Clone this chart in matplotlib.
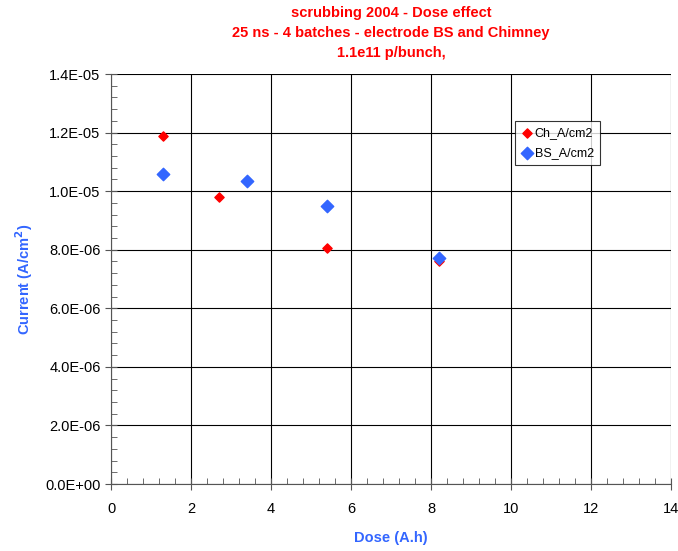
import matplotlib.pyplot as plt
from matplotlib.ticker import MultipleLocator, FuncFormatter

# dose (A.h) and current density (A/cm2)
ch_dose = [1.3, 2.7, 5.4, 8.2]
ch_current = [1.188e-05, 9.80e-06, 8.05e-06, 7.61e-06]
bs_dose = [1.3, 3.4, 5.4, 8.2]
bs_current = [1.058e-05, 1.034e-05, 9.49e-06, 7.71e-06]

title_lines = ['scrubbing 2004 - Dose effect',
               '25 ns - 4 batches - electrode BS and Chimney',
               '1.1e11 p/bunch,']

plt.rcParams['font.family'] = ['Liberation Sans', 'DejaVu Sans']
red = '#FF0000'
blue = '#3366FF'

fig = plt.figure(figsize=(6.78, 5.51), dpi=100)
ax = fig.add_axes([111 / 678, 67 / 551, 560 / 678, 410 / 551])

ax.scatter(ch_dose, ch_current, marker='D', s=22, color=red, label='Ch_A/cm2', zorder=3)
ax.scatter(bs_dose, bs_current, marker='D', s=40, color=blue, label='BS_A/cm2', zorder=3)

ax.set_xlim(0, 14)
ax.set_ylim(0, 1.4e-05)
ax.xaxis.set_major_locator(MultipleLocator(2))
ax.xaxis.set_minor_locator(MultipleLocator(0.4))
ax.yaxis.set_major_locator(MultipleLocator(2e-06))
ax.yaxis.set_minor_locator(MultipleLocator(4e-07))


def sci(v, pos):
    s = '%.1E' % v
    mant, exp = s.split('E')
    return '%sE%s%02d' % (mant, exp[0], abs(int(exp)))


ax.yaxis.set_major_formatter(FuncFormatter(sci))
ax.grid(True, which='major', color='black', linewidth=0.8)
for side in ['top', 'right']:
    ax.spines[side].set_visible(False)
for side in ['left', 'bottom']:
    ax.spines[side].set_color('#555555')
ax.tick_params(which='major', direction='inout', length=8, labelsize=10.5, colors='#555555', labelcolor='black')
ax.tick_params(which='minor', direction='in', length=4, colors='#555555')
ax.tick_params(axis='x', pad=9)

ax.set_xlabel('Dose (A.h)', color=blue, fontweight='bold', fontsize=10.5, va='center')
ax.xaxis.set_label_coords(0.5, -(538 - 484) / 410)
ax.set_ylabel('Current (A/cm$^{\\mathbf{2}}$)', color=blue, fontweight='bold', fontsize=10.5, va='center')
ax.yaxis.set_label_coords(-(111 - 24) / 560, 0.5)

leg = ax.legend(loc='upper left', bbox_to_anchor=(0.71, 0.9), fontsize=9, frameon=True,
                fancybox=False, edgecolor='black', handletextpad=0.1, borderpad=0.5,
                handlelength=1.0, labelspacing=0.6)
leg.get_frame().set_linewidth(0.8)

for i, line in enumerate(title_lines):
    fig.text(391 / 678, 1 - (13 + 20 * i) / 551, line, color=red, fontweight='bold',
             fontsize=10.5, ha='center', va='center')

fig.savefig('out.png', dpi=100)
